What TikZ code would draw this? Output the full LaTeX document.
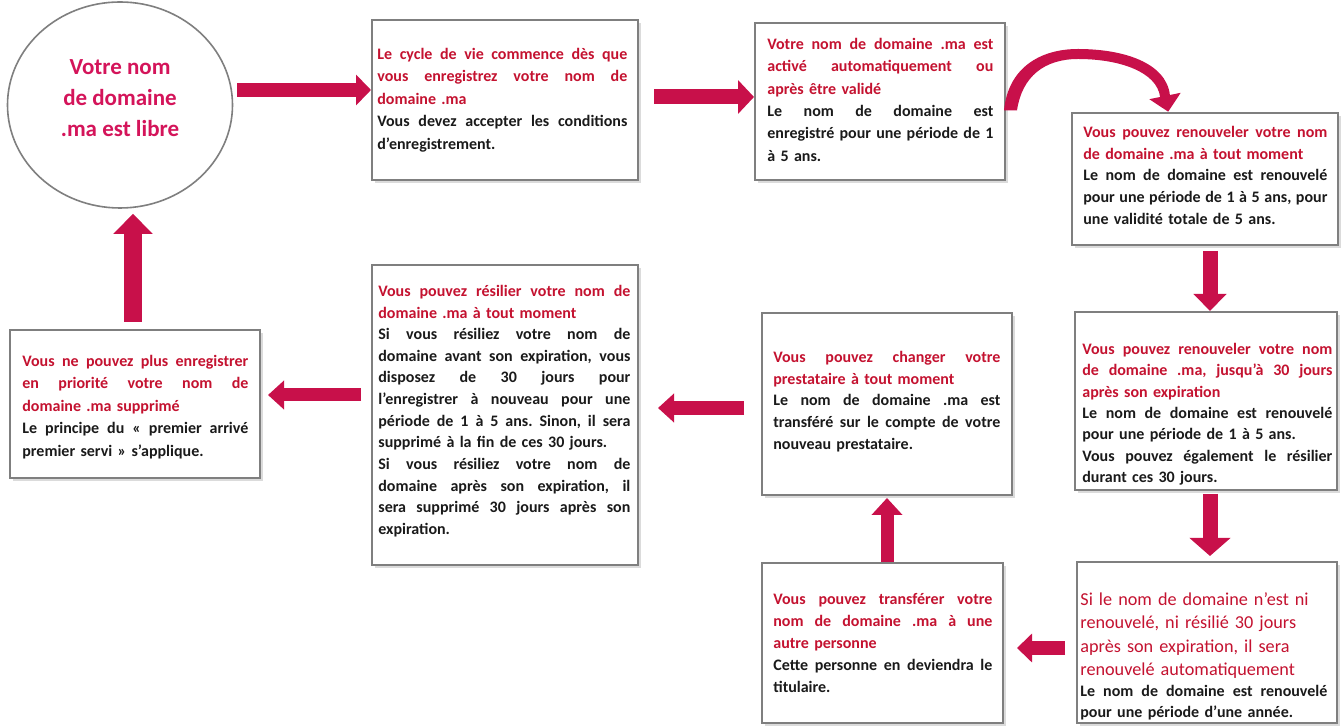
\documentclass[tikz,border=0pt]{standalone}
\usepackage{fontspec}
\setmainfont{Carlito}
\usetikzlibrary{arrows.meta,shapes.geometric,shadows}
\definecolor{arr}{HTML}{C8104A}
\definecolor{hred}{HTML}{C41230}
\definecolor{circ}{HTML}{D4145A}
\definecolor{bord}{HTML}{7F7F7F}
\definecolor{txt}{HTML}{1A1A1A}
\def\W{100pt}
\def\spw#1 #2\relax{#1\ifx\relax#2\relax\else\hskip 0.2em plus 1fil\relax\spw#2\relax\fi}
\newcommand\jr[1]{\leavevmode\hbox to \W{\color{hred}\spw#1 \relax}\\}
\newcommand\lr[1]{\leavevmode{\color{hred}#1}\\}
\newcommand\jk[1]{\leavevmode\hbox to \W{\spw#1 \relax}\\}
\frenchspacing
\tikzset{
  box/.style={draw=bord, line width=1pt, fill=white, rectangle, inner sep=0pt,
    drop shadow={shadow xshift=1.5pt, shadow yshift=-1.5pt, fill=black!28}},
  txtnode/.style={anchor=north west, inner sep=0pt, text=txt},
  blk/.style={draw=arr, line cap=butt}
}
\begin{document}
\begin{tikzpicture}[x=0.5pt,y=-0.5pt]
\useasboundingbox[fill=white] (0,0) rectangle (1341,726);

% circle
\node[ellipse, draw=bord, line width=0.8pt, minimum width=112.5pt, minimum height=103pt, inner sep=0pt] (c) at (120,105) {};
\node[text=circ, font=\bfseries\fontsize{11.5}{15.5}\selectfont, align=center, inner sep=0pt] (ct) at (120,98) {Votre nom\\de domaine\\.ma est libre};

% boxes
\node[box, minimum width=133pt, minimum height=80pt] (b1) at (505,100) {};
\node[box, minimum width=125pt, minimum height=78.5pt] (b2) at (880,101.5) {};
\node[box, minimum width=133pt, minimum height=66pt] (b3) at (1205,179) {};
\node[box, minimum width=131pt, minimum height=89pt] (b4) at (1206,401) {};
\node[box, minimum width=130pt, minimum height=80.5pt] (b5) at (1207,642.5) {};
\node[box, minimum width=120.5pt, minimum height=80pt] (b6) at (882.5,643) {};
\node[box, minimum width=125pt, minimum height=91pt] (b7) at (887,404) {};
\node[box, minimum width=133pt, minimum height=150pt] (b8) at (505,415) {};
\node[box, minimum width=125pt, minimum height=74pt] (b9) at (135,404) {};

% texts
\node[txtnode, text width=125pt, font=\bfseries\fontsize{8}{11.25}\selectfont] (t1) at (377,43.25) {%
\def\W{125pt}\strut\jr{Le cycle de vie commence dès que}
\jr{vous enregistrez votre nom de}
\lr{domaine .ma}
\jk{Vous devez accepter les conditions}
d’enregistrement.};

\node[txtnode, text width=113pt, font=\bfseries\fontsize{8}{11.2}\selectfont] (t2) at (767,33.3) {%
\def\W{113pt}\strut\jr{Votre nom de domaine .ma est}
\jr{activé automatiquement ou}
\lr{après être validé}
\jk{Le nom de domaine est}
\jk{enregistré pour une période de 1}
à 5 ans.};

\node[txtnode, text width=122pt, font=\bfseries\fontsize{8}{10.9}\selectfont] (t3) at (1083,121.7) {%
\def\W{122pt}\strut\jr{Vous pouvez renouveler votre nom}
\lr{de domaine .ma à tout moment}
\jk{Le nom de domaine est renouvelé}
\jk{pour une période de 1 à 5 ans, pour}
une validité totale de 5 ans.};

\node[txtnode, text width=125pt, font=\bfseries\fontsize{8}{10.67}\selectfont] (t4) at (1082,339.1) {%
\def\W{125pt}\strut\jr{Vous pouvez renouveler votre nom}
\jr{de domaine .ma, jusqu’à 30 jours}
\lr{après son expiration}
\jk{Le nom de domaine est renouvelé}
pour une période de 1 à 5 ans.\\
\jk{Vous pouvez également le résilier}
durant ces 30 jours.};

\node[txtnode, text=hred, text width=128pt, align=left, font=\fontsize{9.1}{11.7}\selectfont] (t5a) at (1080,588.6) {%
\strut Si le nom de domaine n’est ni\\
renouvelé, ni résilié 30 jours\\
après son expiration, il sera\\
renouvelé automatiquement};

\node[txtnode, text width=123.5pt, font=\bfseries\fontsize{8}{10.5}\selectfont] (t5b) at (1080,681.3) {%
\def\W{123.5pt}\strut\jk{Le nom de domaine est renouvelé}
pour une période d’une année.};

\node[txtnode, text width=109.5pt, font=\bfseries\fontsize{8}{11}\selectfont] (t6) at (773,588.6) {%
\def\W{109.5pt}\strut\jr{Vous pouvez transférer votre}
\jr{nom de domaine .ma à une}
\lr{autre personne}
\jk{Cette personne en deviendra le}
titulaire.};

\node[txtnode, text width=113.5pt, font=\bfseries\fontsize{8}{10.9}\selectfont] (t7) at (773,346.7) {%
\def\W{113.5pt}\strut\jr{Vous pouvez changer votre}
\lr{prestataire à tout moment}
\jk{Le nom de domaine .ma est}
\jk{transféré sur le compte de votre}
nouveau prestataire.};

\node[txtnode, text width=126pt, font=\bfseries\fontsize{8}{10.82}\selectfont] (t8) at (378,280.85) {%
\def\W{126pt}\strut\jr{Vous pouvez résilier votre nom de}
\lr{domaine .ma à tout moment}
\jk{Si vous résiliez votre nom de}
\jk{domaine avant son expiration, vous}
\jk{disposez de 30 jours pour}
\jk{l’enregistrer à nouveau pour une}
\jk{période de 1 à 5 ans. Sinon, il sera}
supprimé à la fin de ces 30 jours.\\
\jk{Si vous résiliez votre nom de}
\jk{domaine après son expiration, il}
\jk{sera supprimé 30 jours après son}
expiration.};

\node[txtnode, text width=113pt, font=\bfseries\fontsize{8}{11.25}\selectfont] (t9) at (22,350.25) {%
\def\W{113pt}\strut\jr{Vous ne pouvez plus enregistrer}
\jr{en priorité votre nom de}
\lr{domaine .ma supprimé}
\jk{Le principe du « premier arrivé}
premier servi » s’applique.};

% arrows
\draw[blk, line width=7pt, -{Triangle[length=7.5pt,width=15pt]}]
  ([xshift=2pt,yshift=7.5pt]c.east) -- ([yshift=5pt]b1.west);
\draw[blk, line width=7.5pt, -{Triangle[length=8pt,width=16.5pt]}]
  ([xshift=7.5pt,yshift=1.5pt]b1.east) -- ([yshift=2.25pt]b2.west);

% curved arrow b2 -> b3
\coordinate (cend) at (1168.2,111.7);
\fill[arr] ([xshift=-1pt,yshift=-4.5pt]b2.east) .. controls (1008,68) and (1040,49) .. (1078,49)
  .. controls (1122,49) and (1166,62) .. (1169.9,95)
  -- (1180.7,92.8) -- (cend) -- (1149.3,99.2) -- (1160.1,97)
  .. controls (1157,72) and (1120,59) .. (1078,59)
  .. controls (1045,59) and (1022,76) .. (1017,110.5) -- cycle;

\draw[blk, line width=7.5pt, -{Triangle[length=8.5pt,width=16pt]}]
  ([xshift=2.5pt,yshift=-2.5pt]b3.south) -- ([xshift=2pt]b4.north);
\draw[blk, line width=7.5pt, -{Triangle[length=9pt,width=20pt]}]
  ([xshift=2pt,yshift=-1.5pt]b4.south) -- ([xshift=1.5pt,yshift=2.5pt]b5.north);
\draw[blk, line width=7pt, -{Triangle[length=7.5pt,width=14pt]}]
  ([xshift=-5.5pt,yshift=-2.75pt]b5.west) -- ([xshift=6.5pt,yshift=-2.5pt]b6.east);
\draw[blk, line width=6.5pt, -{Triangle[length=8.5pt,width=15pt]}]
  ([xshift=2.25pt]b6.north) -- ([yshift=-1pt]b7.south);
\draw[blk, line width=7pt, -{Triangle[length=8pt,width=14pt]}]
  ([xshift=-8.5pt,yshift=-2pt]b7.west) -- ([xshift=9.5pt,yshift=3.5pt]b8.east);
\draw[blk, line width=6.5pt, -{Triangle[length=8pt,width=14pt]}]
  ([xshift=-5pt,yshift=10pt]b8.west) -- ([xshift=3.5pt,yshift=4.5pt]b9.east);
\draw[blk, line width=9pt, -{Triangle[length=10pt,width=19pt]}]
  ([xshift=-1pt,yshift=3.5pt]b9.north) -- ([xshift=6.5pt,yshift=-2.5pt]c.south);
\end{tikzpicture}
\end{document}
